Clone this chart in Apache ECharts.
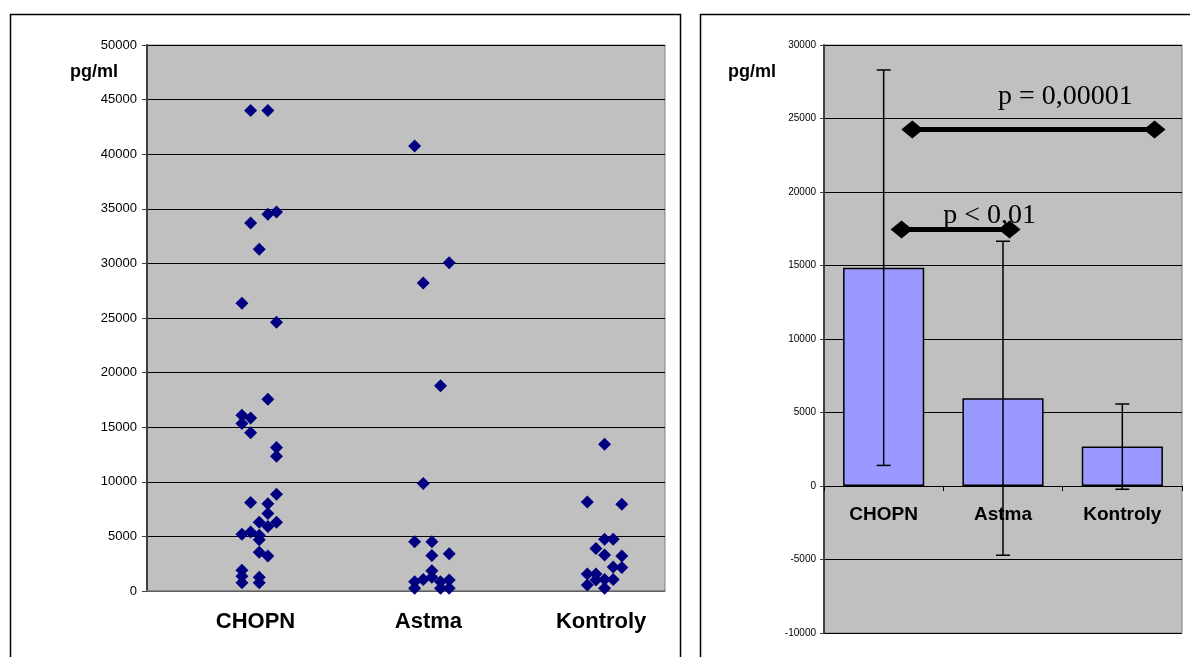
<!DOCTYPE html>
<html>
<head>
<meta charset="utf-8">
<title>pg/ml</title>
<script src="https://cdn.jsdelivr.net/npm/echarts@6.0.0/dist/echarts.min.js"></script>
<style>
    html, body { margin: 0; padding: 0; background: #fff; }
    #chart { width: 1190px; height: 657px; }
</style>
</head>
<body>
<div id="chart"></div>
<script>
// skupiny
var categories = ['CHOPN', 'Astma', 'Kontroly'];

// levy graf - jednotlive hodnoty (x = rozptyl uvnitr skupiny)
var chopnX = [0.60, 0.70, 0.70, 0.75, 0.60, 0.65, 0.55, 0.75, 0.70, 0.55, 0.60, 0.55, 0.60, 0.75, 0.75, 0.75, 0.60,
              0.70, 0.70, 0.65, 0.75, 0.70, 0.55, 0.60, 0.65, 0.65, 0.65, 0.70, 0.55, 0.55, 0.55, 0.65, 0.65];
var chopnY = [44000, 44000, 34500, 34700, 33700, 31300, 26350, 24600, 17550, 16100, 15850, 15350, 14500, 13150, 12350, 8850, 8100,
              8000, 7100, 6300, 6300, 5900, 5200, 5400, 5100, 4700, 3550, 3200, 1900, 1350, 750, 1250, 750];
var astmaX = [1.55, 1.75, 1.60, 1.70, 1.60, 1.55, 1.65, 1.65, 1.75, 1.65, 1.60, 1.65, 1.55, 1.55, 1.70, 1.70, 1.75, 1.75];
var astmaY = [40750, 30050, 28200, 18800, 9850, 4500, 4500, 3250, 3400, 1850, 1050, 1250, 850, 250, 850, 250, 1000, 250];
var kontrolyX = [2.65, 2.55, 2.75, 2.65, 2.70, 2.60, 2.65, 2.75, 2.70, 2.75, 2.55, 2.60, 2.70, 2.65, 2.60, 2.55, 2.65];
var kontrolyY = [13450, 8150, 7950, 4750, 4750, 3900, 3300, 3200, 2200, 2150, 1550, 1550, 1050, 1050, 1000, 550, 250];

// pravy graf - prumer a SD
var means = [14850, 5970, 2680];
var sds = [13450, 10680, 2900];

// signifikance
var sigLabels = ['p < 0,01', 'p = 0,00001'];
var sigFrom = [0.65, 0.74];
var sigTo = [1.555, 2.77];
var sigY = [17450, 24250];

// rozsahy os
var leftMin = 0, leftMax = 50000;
var rightMin = -10000, rightMax = 30000;
var rightGridHeight = 588;

function pairs(xs, ys) {
    var out = [];
    for (var i = 0; i < xs.length; i++) out.push([xs[i], ys[i]]);
    return out;
}
function avg(a) {
    var s = 0;
    for (var i = 0; i < a.length; i++) s += a[i];
    return s / a.length;
}
function plain(v) { return String(v); }

var groupX = [avg(chopnX) - 0.02, avg(astmaX) - 0.02, avg(kontrolyX) - 0.02];
// kategorie vpravo lezi na nule
var zeroOffset = rightGridHeight * (0 - rightMin) / (rightMax - rightMin);

var sigSeries = [];
for (var k = 0; k < sigLabels.length; k++) {
    sigSeries.push({
        type: 'line',
        xAxisIndex: 2,
        yAxisIndex: 1,
        symbol: 'diamond',
        symbolSize: [22, 18],
        z: 10,
        lineStyle: { color: '#000', width: 5 },
        itemStyle: { color: '#000' },
        data: [
            {
                value: [sigFrom[k], sigY[k]],
                label: {
                    show: true,
                    formatter: sigLabels[k],
                    position: k === 0 ? [99, -5] : [164, -24],
                    align: 'center',
                    verticalAlign: 'middle',
                    fontFamily: 'Liberation Serif',
                    fontSize: 28,
                    color: '#000'
                }
            },
            [sigTo[k], sigY[k]]
        ]
    });
}

var chart = echarts.init(document.getElementById('chart'));
var option = {
    animation: false,
    textStyle: { fontFamily: 'Liberation Sans' },
    graphic: [
        { type: 'rect', silent: true, shape: { x: 10.5, y: 14.5, width: 670, height: 700 },
          style: { fill: 'none', stroke: '#000', lineWidth: 1.5 } },
        { type: 'rect', silent: true, shape: { x: 700.5, y: 14.5, width: 600, height: 700 },
          style: { fill: 'none', stroke: '#000', lineWidth: 1.5 } },
        { type: 'text', left: 70, top: 63,
          style: { text: 'pg/ml', fontFamily: 'Liberation Sans', fontWeight: 'bold', fontSize: 18, fill: '#000' } },
        { type: 'text', left: 728, top: 63,
          style: { text: 'pg/ml', fontFamily: 'Liberation Sans', fontWeight: 'bold', fontSize: 18, fill: '#000' } }
    ],
    grid: [
        { left: 147, top: 45, width: 518, height: 546, show: true, outerBoundsMode: 'none',
          backgroundColor: '#C0C0C0', borderColor: '#808080', borderWidth: 1 },
        { left: 824, top: 45, width: 358, height: rightGridHeight, show: true, outerBoundsMode: 'none',
          backgroundColor: '#C0C0C0', borderColor: '#808080', borderWidth: 1 }
    ],
    xAxis: [
        {
            type: 'value',
            gridIndex: 0,
            min: 0,
            max: 3,
            splitLine: { show: false },
            axisLine: { show: true, lineStyle: { color: '#808080', width: 1.5 } },
            axisTick: { show: false },
            axisLabel: {
                customValues: groupX,
                formatter: function (v) { return categories[Math.floor(v)]; },
                margin: 20,
                fontSize: 22,
                fontWeight: 'bold',
                color: '#000'
            }
        },
        {
            type: 'category',
            gridIndex: 1,
            data: categories,
            position: 'bottom',
            offset: -zeroOffset,
            axisLine: { show: true, onZero: false, lineStyle: { color: '#000', width: 1 } },
            axisTick: { show: true, length: 5, lineStyle: { color: '#000' } },
            axisLabel: { margin: 19, fontSize: 19, fontWeight: 'bold', color: '#000' },
            splitLine: { show: false }
        },
        {
            type: 'value',
            gridIndex: 1,
            min: 0,
            max: 3,
            show: false
        }
    ],
    yAxis: [
        {
            type: 'value',
            gridIndex: 0,
            min: leftMin,
            max: leftMax,
            interval: 5000,
            axisLine: { show: true, lineStyle: { color: '#404040', width: 2 } },
            axisTick: { show: true, length: 5, lineStyle: { color: '#404040' } },
            axisLabel: { margin: 10, fontSize: 13, color: '#000', formatter: plain },
            splitLine: { show: true, lineStyle: { color: '#000', width: 1 } }
        },
        {
            type: 'value',
            gridIndex: 1,
            min: rightMin,
            max: rightMax,
            interval: 5000,
            axisLine: { show: true, lineStyle: { color: '#404040', width: 2 } },
            axisTick: { show: true, length: 4, lineStyle: { color: '#404040' } },
            axisLabel: { margin: 8, fontSize: 10, color: '#000', formatter: plain },
            splitLine: { show: true, lineStyle: { color: '#000', width: 1 } }
        }
    ],
    series: [
        { name: 'CHOPN', type: 'scatter', xAxisIndex: 0, yAxisIndex: 0, symbol: 'diamond', symbolSize: 13,
          itemStyle: { color: '#000080', opacity: 1 }, data: pairs(chopnX, chopnY) },
        { name: 'Astma', type: 'scatter', xAxisIndex: 0, yAxisIndex: 0, symbol: 'diamond', symbolSize: 13,
          itemStyle: { color: '#000080', opacity: 1 }, data: pairs(astmaX, astmaY) },
        { name: 'Kontroly', type: 'scatter', xAxisIndex: 0, yAxisIndex: 0, symbol: 'diamond', symbolSize: 13,
          itemStyle: { color: '#000080', opacity: 1 }, data: pairs(kontrolyX, kontrolyY) },
        {
            name: 'prumer',
            type: 'bar',
            xAxisIndex: 1,
            yAxisIndex: 1,
            barWidth: '68%',
            itemStyle: { color: '#9999FF', borderColor: '#000', borderWidth: 1.5 },
            data: means
        },
        {
            name: 'SD',
            type: 'custom',
            xAxisIndex: 1,
            yAxisIndex: 1,
            z: 5,
            renderItem: function (params, api) {
                var x = api.value(0), m = api.value(1), s = api.value(2);
                var top = api.coord([x, m + s]);
                var bot = api.coord([x, m - s]);
                var w = 7;
                var st = { stroke: '#000', lineWidth: 1.5 };
                return {
                    type: 'group',
                    children: [
                        { type: 'line', shape: { x1: top[0], y1: top[1], x2: bot[0], y2: bot[1] }, style: st },
                        { type: 'line', shape: { x1: top[0] - w, y1: top[1], x2: top[0] + w, y2: top[1] }, style: st },
                        { type: 'line', shape: { x1: bot[0] - w, y1: bot[1], x2: bot[0] + w, y2: bot[1] }, style: st }
                    ]
                };
            },
            encode: { x: 0, y: 1 },
            data: categories.map(function (c, i) { return [i, means[i], sds[i]]; })
        }
    ].concat(sigSeries)
};
chart.setOption(option);
</script>
</body>
</html>
